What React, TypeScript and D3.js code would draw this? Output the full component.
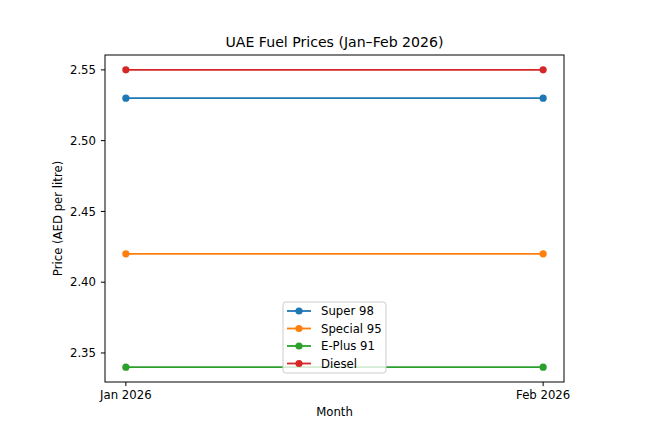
import React from "react";
import * as d3 from "d3";

const months = ["Jan 2026", "Feb 2026"];
const seriesNames = ["Super 98", "Special 95", "E-Plus 91", "Diesel"];
const super98 = [2.53, 2.53];
const special95 = [2.42, 2.42];
const eplus91 = [2.34, 2.34];
const diesel = [2.55, 2.55];
const yTicks = [2.35, 2.4, 2.45, 2.5, 2.55];
const colors = ["#1f77b4", "#ff7f0e", "#2ca02c", "#d62728"];

const W = 648, H = 425;
const left = 105, right = 564, top = 55, bottom = 382;
const font = "DejaVu Sans, sans-serif";
const fs = 11.7;

export default function App() {
  const allSeries = [super98, special95, eplus91, diesel];
  const x = d3.scaleLinear().domain([-0.05, 1.05]).range([left, right]);
  const flat = allSeries.flat();
  const lo = d3.min(flat)!, hi = d3.max(flat)!;
  const pad = (hi - lo) * 0.05;
  const y = d3.scaleLinear().domain([lo - pad, hi + pad]).range([bottom, top]);
  const line = d3.line<number>().x((_, i) => x(i)).y((d) => y(d));

  const legX = 283, legY = 302, legW = 103, legH = 71, rowH = 17.5;

  return (
    <svg width={W} height={H} style={{ position: "absolute", left: 0, top: 0 }} fontFamily={font}>
      <rect x={0} y={0} width={W} height={H} fill="#fff" />
      {allSeries.map((s, k) => (
        <g key={k}>
          <path d={line(s)!} fill="none" stroke={colors[k]} strokeWidth={1.8} />
          {s.map((v, i) => (
            <circle key={i} cx={x(i)} cy={y(v)} r={3.6} fill={colors[k]} />
          ))}
        </g>
      ))}
      <rect x={left} y={top} width={right - left} height={bottom - top} fill="none" stroke="#000" strokeWidth={1} />
      {yTicks.map((t) => (
        <g key={t}>
          <line x1={left - 4.1} x2={left} y1={y(t)} y2={y(t)} stroke="#000" strokeWidth={1} />
          <text x={left - 9} y={y(t)} dy="0.36em" textAnchor="end" fontSize={fs} fill="#000">
            {t.toFixed(2)}
          </text>
        </g>
      ))}
      {months.map((m, i) => (
        <g key={m}>
          <line x1={x(i)} x2={x(i)} y1={bottom} y2={bottom + 4.1} stroke="#000" strokeWidth={1} />
          <text x={x(i)} y={bottom + 17} textAnchor="middle" fontSize={fs} fill="#000">
            {m}
          </text>
        </g>
      ))}
      <text x={(left + right) / 2} y={416} textAnchor="middle" fontSize={fs} fill="#000">Month</text>
      <text transform={`translate(62,${(top + bottom) / 2}) rotate(-90)`} textAnchor="middle" fontSize={fs} fill="#000">
        Price (AED per litre)
      </text>
      <text x={(left + right) / 2} y={47} textAnchor="middle" fontSize={14.1} fill="#000">
        UAE Fuel Prices (Jan–Feb 2026)
      </text>
      <g>
        <rect x={legX} y={legY} width={legW} height={legH} rx={3} fill="#fff" fillOpacity={0.8} stroke="#ccc" strokeWidth={1} />
        {seriesNames.map((n, k) => {
          const cy = legY + 9 + k * rowH;
          return (
            <g key={n}>
              <line x1={legX + 4} x2={legX + 28} y1={cy} y2={cy} stroke={colors[k]} strokeWidth={1.8} />
              <circle cx={legX + 16} cy={cy} r={3.6} fill={colors[k]} />
              <text x={legX + 38} y={cy} dy="0.36em" fontSize={fs} fill="#000">{n}</text>
            </g>
          );
        })}
      </g>
    </svg>
  );
}
